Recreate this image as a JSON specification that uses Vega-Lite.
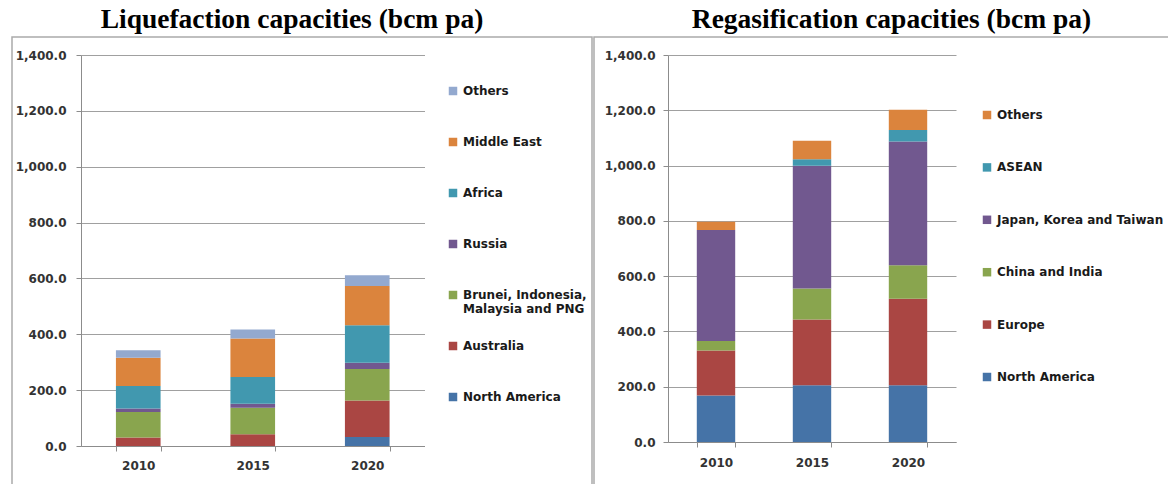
{
  "$schema": "https://vega.github.io/schema/vega-lite/v6.json",
  "autosize": {"type": "pad"},
  "padding": {"left": 11, "top": 4, "right": 0, "bottom": 0},
  "background": "white",
  "spacing": 0,
  "datasets": {
    "liq": [
      {"year": "2010", "region": "North America", "value": 0},
      {"year": "2010", "region": "Australia", "value": 30},
      {"year": "2010", "region": "Brunei, Indonesia, Malaysia and PNG", "value": 92},
      {"year": "2010", "region": "Russia", "value": 12},
      {"year": "2010", "region": "Africa", "value": 81},
      {"year": "2010", "region": "Middle East", "value": 101},
      {"year": "2010", "region": "Others", "value": 27},
      {"year": "2015", "region": "North America", "value": 0},
      {"year": "2015", "region": "Australia", "value": 42},
      {"year": "2015", "region": "Brunei, Indonesia, Malaysia and PNG", "value": 95},
      {"year": "2015", "region": "Russia", "value": 14},
      {"year": "2015", "region": "Africa", "value": 96},
      {"year": "2015", "region": "Middle East", "value": 138},
      {"year": "2015", "region": "Others", "value": 32},
      {"year": "2020", "region": "North America", "value": 32},
      {"year": "2020", "region": "Australia", "value": 131},
      {"year": "2020", "region": "Brunei, Indonesia, Malaysia and PNG", "value": 113},
      {"year": "2020", "region": "Russia", "value": 22},
      {"year": "2020", "region": "Africa", "value": 134},
      {"year": "2020", "region": "Middle East", "value": 141},
      {"year": "2020", "region": "Others", "value": 38}
    ],
    "reg": [
      {"year": "2010", "region": "North America", "value": 168},
      {"year": "2010", "region": "Europe", "value": 163},
      {"year": "2010", "region": "China and India", "value": 34},
      {"year": "2010", "region": "Japan, Korea and Taiwan", "value": 402},
      {"year": "2010", "region": "ASEAN", "value": 0},
      {"year": "2010", "region": "Others", "value": 30},
      {"year": "2015", "region": "North America", "value": 205},
      {"year": "2015", "region": "Europe", "value": 238},
      {"year": "2015", "region": "China and India", "value": 112},
      {"year": "2015", "region": "Japan, Korea and Taiwan", "value": 444},
      {"year": "2015", "region": "ASEAN", "value": 24},
      {"year": "2015", "region": "Others", "value": 67},
      {"year": "2020", "region": "North America", "value": 205},
      {"year": "2020", "region": "Europe", "value": 313},
      {"year": "2020", "region": "China and India", "value": 121},
      {"year": "2020", "region": "Japan, Korea and Taiwan", "value": 448},
      {"year": "2020", "region": "ASEAN", "value": 42},
      {"year": "2020", "region": "Others", "value": 73}
    ]
  },
  "hconcat": [
    {
      "title": {"text": "Liquefaction capacities (bcm pa)", "dx": -10},
      "width": 580,
      "height": 448,
      "data": {"name": "liq"},
      "transform": [
        {"calculate": "indexof(['North America', 'Australia', 'Brunei, Indonesia, Malaysia and PNG', 'Russia', 'Africa', 'Middle East', 'Others'], datum.region)", "as": "stackOrder"}
      ],
      "mark": {"type": "bar"},
      "encoding": {
        "x": {
          "field": "year", "type": "ordinal",
          "scale": {"range": [69, 412.5], "paddingInner": 0.61, "paddingOuter": 0.305},
          "axis": {"offset": -39, "tickBand": "extent", "labelPadding": 9}
        },
        "y": {
          "field": "value", "type": "quantitative", "stack": "zero",
          "scale": {"domain": [0, 1400], "range": [409, 18], "nice": false},
          "axis": {"offset": -69, "values": [0, 200, 400, 600, 800, 1000, 1200, 1400], "format": ",.1f", "labelPadding": 10}
        },
        "order": {"field": "stackOrder", "type": "quantitative", "sort": "ascending"},
        "color": {
          "field": "region", "type": "nominal",
          "sort": ["Others", "Middle East", "Africa", "Russia", "Brunei, Indonesia, Malaysia and PNG", "Australia", "North America"],
          "scale": {
            "range": ["#93A9CF", "#DB843D", "#4198AF", "#71588F", "#89A54E", "#AA4643", "#4573A7"]
          },
          "legend": {
            "labelExpr": "datum.label == 'Brunei, Indonesia, Malaysia and PNG' ? ['Brunei, Indonesia,', 'Malaysia and PNG'] : datum.label",
            "orient": "none", "legendX": 435, "legendY": 48,
            "gridAlign": "all", "rowPadding": 25
          }
        }
      }
    },
    {
      "title": {"text": "Regasification capacities (bcm pa)", "dx": 8},
      "width": 579,
      "height": 448,
      "data": {"name": "reg"},
      "transform": [
        {"calculate": "indexof(['North America', 'Europe', 'China and India', 'Japan, Korea and Taiwan', 'ASEAN', 'Others'], datum.region)", "as": "stackOrder"}
      ],
      "mark": {"type": "bar"},
      "encoding": {
        "x": {
          "field": "year", "type": "ordinal",
          "scale": {"range": [74, 362], "paddingInner": 0.6, "paddingOuter": 0.3},
          "axis": {"offset": -43, "tickBand": "extent", "labelPadding": 10}
        },
        "y": {
          "field": "value", "type": "quantitative", "stack": "zero",
          "scale": {"domain": [0, 1400], "range": [405, 18], "nice": false},
          "axis": {"offset": -74, "values": [0, 200, 400, 600, 800, 1000, 1200, 1400], "format": ",.1f", "labelPadding": 8}
        },
        "order": {"field": "stackOrder", "type": "quantitative", "sort": "ascending"},
        "color": {
          "field": "region", "type": "nominal",
          "sort": ["Others", "ASEAN", "Japan, Korea and Taiwan", "China and India", "Europe", "North America"],
          "scale": {
            "range": ["#DB843D", "#4198AF", "#71588F", "#89A54E", "#AA4643", "#4573A7"]
          },
          "legend": {
            "orient": "none", "legendX": 387, "legendY": 72,
            "rowPadding": 40.4
          }
        }
      }
    }
  ],
  "resolve": {"scale": {"color": "independent", "x": "independent", "y": "independent"}},
  "config": {
    "view": {"stroke": "#ababab", "strokeWidth": 1.5},
    "title": {"font": "Liberation Serif", "fontSize": 27.5, "fontWeight": "bold", "color": "#000000", "anchor": "middle", "offset": 4},
    "axis": {
      "title": null,
      "labelFont": "DejaVu Sans", "labelFontWeight": "bold", "labelFontSize": 12, "labelColor": "#333333",
      "domainColor": "#8c8c8c", "tickColor": "#8c8c8c", "tickSize": 5, "gridColor": "#a0a0a0", "gridWidth": 1
    },
    "axisX": {"labelAngle": 0, "grid": false},
    "axisY": {"grid": true},
    "legend": {
      "title": null, "padding": 0,
      "labelFont": "DejaVu Sans", "labelFontWeight": "bold", "labelFontSize": 12, "labelColor": "#1a1a1a",
      "labelLimit": 400, "labelOffset": 4,
      "symbolType": "square", "symbolSize": 72, "symbolStrokeWidth": 0
    }
  }
}
